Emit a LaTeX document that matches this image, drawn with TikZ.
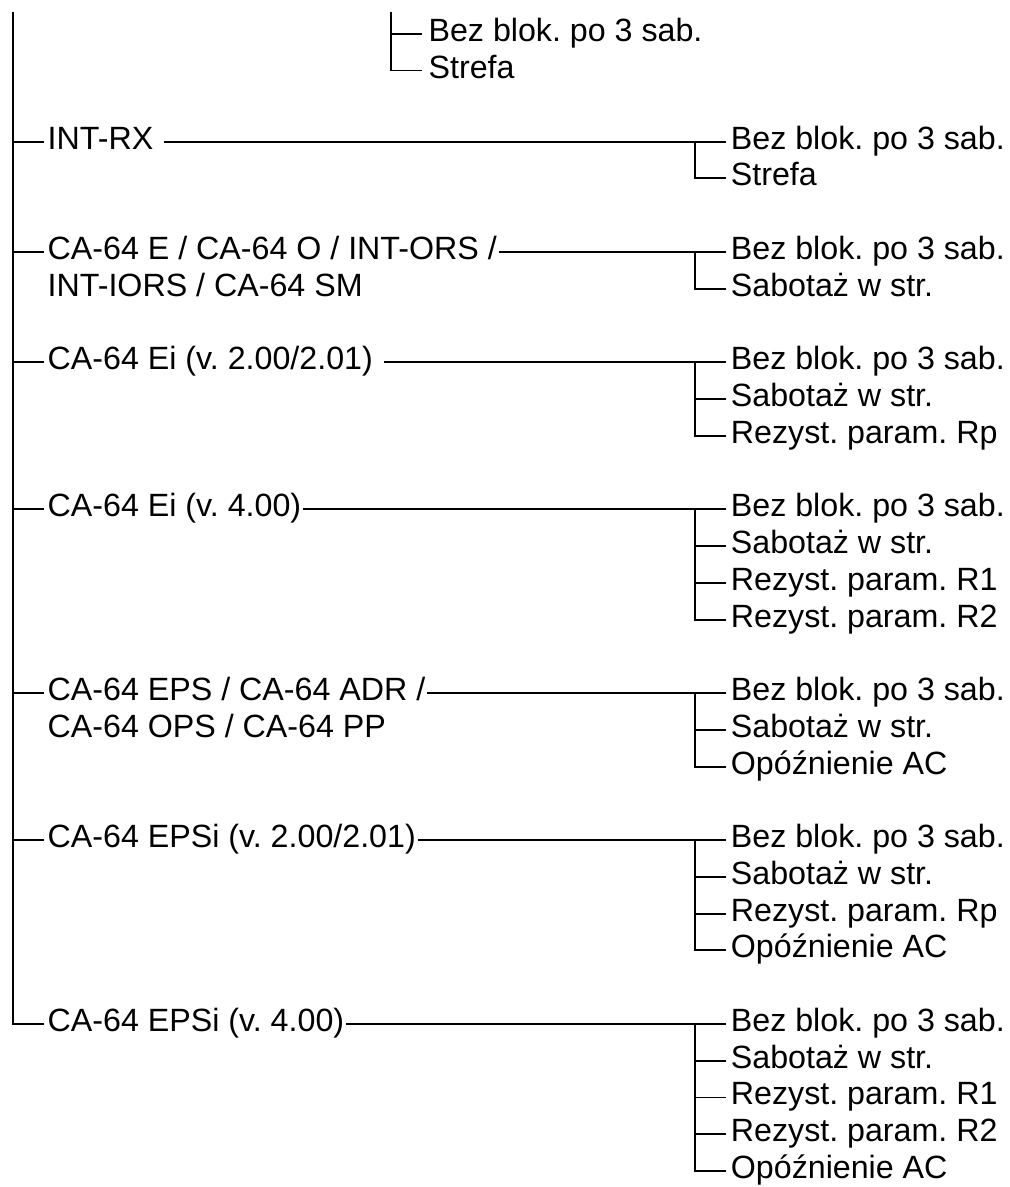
\documentclass[tikz,border=0pt]{standalone}
\usepackage{fontspec}
\setmainfont{Liberation Sans}
\usetikzlibrary{calc}
\frenchspacing
\newcommand\ry[1]{31.4+36.76*#1}
\newcommand\tsp{\kern0.278em}
\tikzset{
  conn/.style={line width=1.9pt},
  item/.style={anchor=west, inner sep=0pt, text height=15pt, text depth=0pt,
               font=\fontsize{32.2}{36.76}\selectfont\frenchspacing},
}
\begin{document}
\begin{tikzpicture}[x=1pt,y=-1pt]
\useasboundingbox (0,0) rectangle (1010,1187);
% coordinates on the group verticals and tick ends
\foreach \k in {3,4,6,7,9,10,11,13,14,15,16,18,19,20,22,23,24,25,27,28,29,30,31}{
  \coordinate (G\k) at (695,{\ry{\k}});
  \coordinate (E\k) at (726,{\ry{\k}});
}
\foreach \k in {3,6,9,13,18,22,27}{
  \coordinate (M\k) at (12.7,{\ry{\k}});
  \coordinate (N\k) at (44,{\ry{\k}});
}
\coordinate (M0) at (12.7,12.3);
% top (continued) group
\coordinate (T0) at (390.7,12.3);
\coordinate (T1) at (390.7,33.8); \coordinate (T1e) at (421.7,33.8);
\coordinate (T2) at (390.7,70.5); \coordinate (T2e) at (421.7,70.5);
\node[item] (t1) at (428.4,33.8) {Bez blok. po 3 sab.};
\node[item] (t2) at (428.4,70.5) {Strefa};
\draw[conn] (T0) -- (T2) -- (T2e);
\draw[conn] (T1) -- (T1e);

% main vertical
\draw[conn] (M0) -- (M27) -- (N27);
\foreach \k in {3,6,9,13,18,22}{ \draw[conn] (M\k) -- (N\k); }

% left labels
\node[item] (L3)  at (47.5,{\ry{3}})  {INT-RX\tsp};
\node[item] (L6)  at (47.5,{\ry{6}})  {CA-64 E / CA-64 O / INT-ORS /};
\node[item] (L6b) at (47.5,{\ry{7}})  {INT-IORS / CA-64 SM};
\node[item] (L9)  at (47.5,{\ry{9}})  {CA-64 Ei (v. 2.00/2.01)\tsp};
\node[item] (L13) at (47.5,{\ry{13}}) {CA-64 Ei (v. 4.00)};
\node[item] (L18) at (47.5,{\ry{18}}) {CA-64 EPS / CA-64 ADR /};
\node[item] (L18b) at (47.5,{\ry{19}}) {CA-64 OPS / CA-64 PP};
\node[item] (L22) at (47.5,{\ry{22}}) {CA-64 EPSi (v. 2.00/2.01)};
\node[item] (L27) at (47.5,{\ry{27}}) {CA-64 EPSi (v. 4.00)};

% long connectors from labels to group ticks
\foreach \k in {3,6,9,13,18,22,27}{
  \draw[conn] ($(L\k.east)+(2,0)$) -- (E\k);
}

% group verticals
\draw[conn] (G3)  -- (G4)  -- (E4);
\draw[conn] (G6)  -- (G7)  -- (E7);
\draw[conn] (G9)  -- (G11) -- (E11);
\draw[conn] (G13) -- (G16) -- (E16);
\draw[conn] (G18) -- (G20) -- (E20);
\draw[conn] (G22) -- (G25) -- (E25);
\draw[conn] (G27) -- (G31) -- (E31);
\foreach \k in {10,14,15,19,23,24,28,29,30}{ \draw[conn] (G\k) -- (E\k); }

% right items
\node[item] (R3)  at (730.7,{\ry{3}})  {Bez blok. po 3 sab.};
\node[item] (R4)  at (730.7,{\ry{4}})  {Strefa};
\node[item] (R6)  at (730.7,{\ry{6}})  {Bez blok. po 3 sab.};
\node[item] (R7)  at (730.7,{\ry{7}})  {Sabotaż w str.};
\node[item] (R9)  at (730.7,{\ry{9}})  {Bez blok. po 3 sab.};
\node[item] (R10) at (730.7,{\ry{10}}) {Sabotaż w str.};
\node[item] (R11) at (730.7,{\ry{11}}) {Rezyst. param. Rp};
\node[item] (R13) at (730.7,{\ry{13}}) {Bez blok. po 3 sab.};
\node[item] (R14) at (730.7,{\ry{14}}) {Sabotaż w str.};
\node[item] (R15) at (730.7,{\ry{15}}) {Rezyst. param. R1};
\node[item] (R16) at (730.7,{\ry{16}}) {Rezyst. param. R2};
\node[item] (R18) at (730.7,{\ry{18}}) {Bez blok. po 3 sab.};
\node[item] (R19) at (730.7,{\ry{19}}) {Sabotaż w str.};
\node[item] (R20) at (730.7,{\ry{20}}) {Opóźnienie AC};
\node[item] (R22) at (730.7,{\ry{22}}) {Bez blok. po 3 sab.};
\node[item] (R23) at (730.7,{\ry{23}}) {Sabotaż w str.};
\node[item] (R24) at (730.7,{\ry{24}}) {Rezyst. param. Rp};
\node[item] (R25) at (730.7,{\ry{25}}) {Opóźnienie AC};
\node[item] (R27) at (730.7,{\ry{27}}) {Bez blok. po 3 sab.};
\node[item] (R28) at (730.7,{\ry{28}}) {Sabotaż w str.};
\node[item] (R29) at (730.7,{\ry{29}}) {Rezyst. param. R1};
\node[item] (R30) at (730.7,{\ry{30}}) {Rezyst. param. R2};
\node[item] (R31) at (730.7,{\ry{31}}) {Opóźnienie AC};
\end{tikzpicture}
\end{document}
